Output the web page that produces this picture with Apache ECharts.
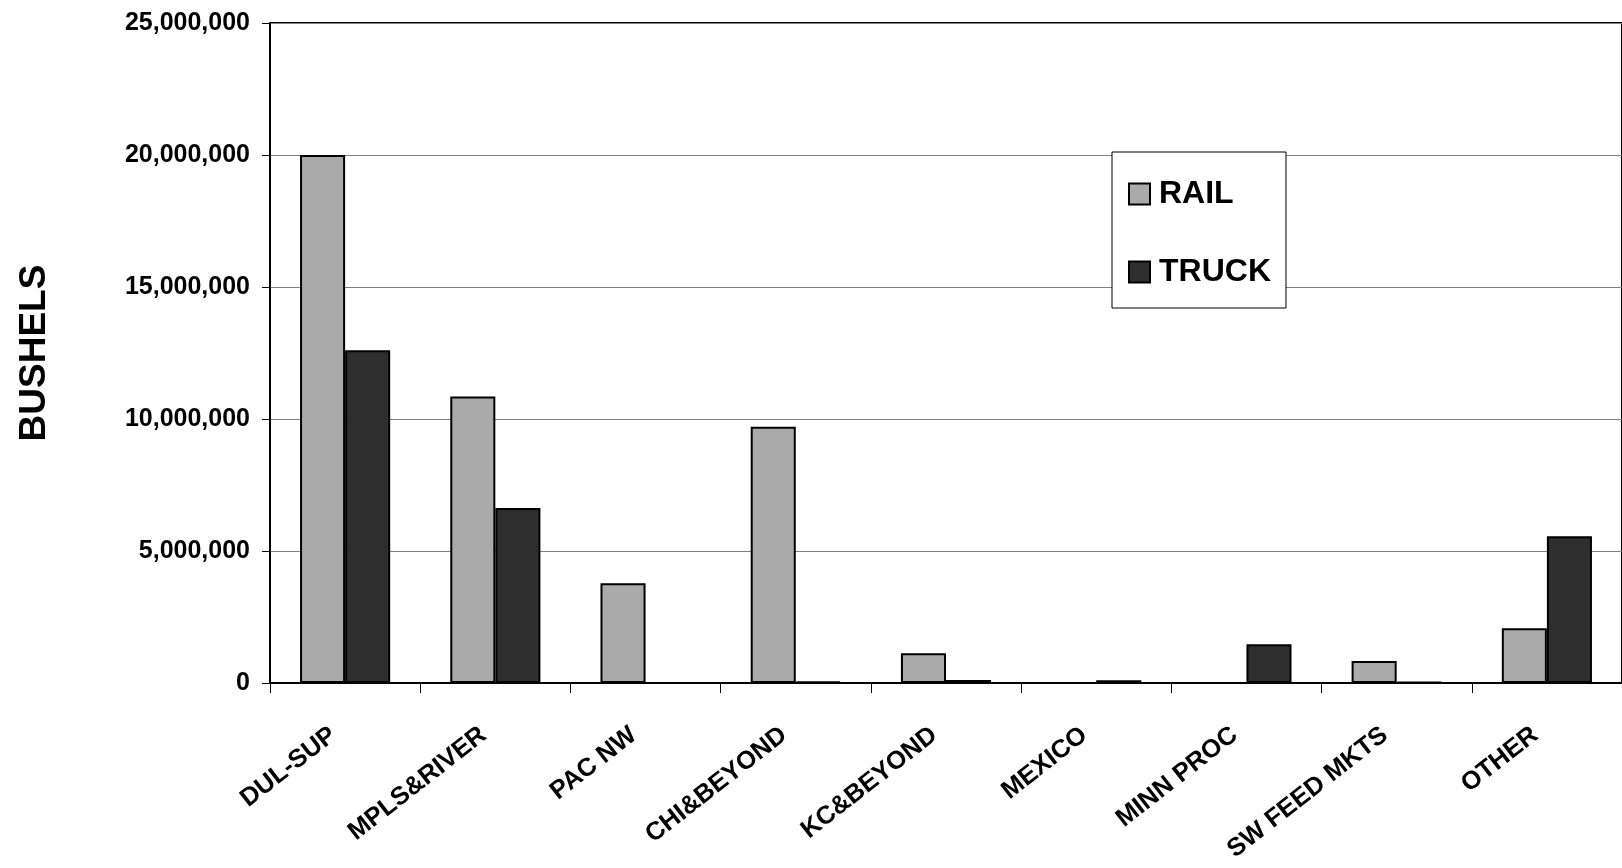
<!DOCTYPE html>
<html>
<head>
<meta charset="utf-8">
<title>BUSHELS</title>
<script src="https://cdn.jsdelivr.net/npm/echarts@6/dist/echarts.min.js"></script>
<style>
html,body{margin:0;padding:0;background:#fff;}
#main{width:1622px;height:868px;}
</style>
</head>
<body>
<div id="main"></div>
<script>
//目的地分类
var categories=["DUL-SUP","MPLS&RIVER","PAC NW","CHI&BEYOND","KC&BEYOND","MEXICO","MINN PROC","SW FEED MKTS","OTHER"];
//铁路运量
var railValues=[20000000,10850000,3780000,9710000,1130000,0,0,830000,2070000];
//卡车运量
var truckValues=[12600000,6630000,0,50000,110000,100000,1470000,30000,5560000];
var seriesNames=["RAIL","TRUCK"];
var yTicks=[0,5000000,10000000,15000000,20000000,25000000];

var fontName="Liberation Sans";

function fmtNum(v){
    return v.toLocaleString("en-US");
}

var myChart=echarts.init(document.getElementById("main"));
var option={
    animation:false,
    backgroundColor:"#fff",
    textStyle:{fontFamily:fontName},
    grid:{
        left:270,
        top:23,
        bottom:185,
        right:-4,
        show:true,
        borderColor:"#000",
        borderWidth:2
    },
    legend:{
        left:1112,
        top:152,
        orient:"vertical",
        data:seriesNames,
        icon:"rect",
        itemWidth:21,
        itemHeight:21,
        itemGap:46,
        padding:[26,15,20,16],
        borderColor:"#000",
        borderWidth:1,
        backgroundColor:"#fff",
        textStyle:{fontSize:32,fontWeight:"bold",color:"#000",fontFamily:fontName,padding:[0,0,0,4]}
    },
    xAxis:{
        type:"category",
        data:categories,
        axisLine:{lineStyle:{color:"#000",width:2}},
        axisTick:{show:true,length:10,lineStyle:{color:"#000",width:1}},
        axisLabel:{
            rotate:38,
            margin:40,
            interval:0,
            fontSize:25.5,
            fontWeight:"bold",
            color:"#000",
            fontFamily:fontName,
            padding:[0,15,0,0]
        }
    },
    yAxis:{
        type:"value",
        min:yTicks[0],
        max:yTicks[yTicks.length-1],
        interval:5000000,
        name:"BUSHELS",
        nameLocation:"middle",
        nameGap:217,
        nameTextStyle:{fontSize:37,fontWeight:"bold",color:"#000",fontFamily:fontName},
        axisLine:{show:true,lineStyle:{color:"#000",width:2}},
        axisTick:{show:true,length:8,lineStyle:{color:"#000"}},
        axisLabel:{
            margin:20,
            fontSize:25,
            fontWeight:"bold",
            color:"#000",
            fontFamily:fontName,
            formatter:fmtNum
        },
        splitLine:{lineStyle:{color:"#808080",width:1}}
    },
    series:[
        {
            name:seriesNames[0],
            type:"bar",
            data:railValues,
            barGap:"0%",
            barCategoryGap:"40%",
            itemStyle:{color:"#aaaaaa",borderColor:"#000",borderWidth:2}
        },
        {
            name:seriesNames[1],
            type:"bar",
            data:truckValues,
            itemStyle:{color:"#2e2e2e",borderColor:"#000",borderWidth:2}
        }
    ]
};
myChart.setOption(option);
</script>
</body>
</html>
